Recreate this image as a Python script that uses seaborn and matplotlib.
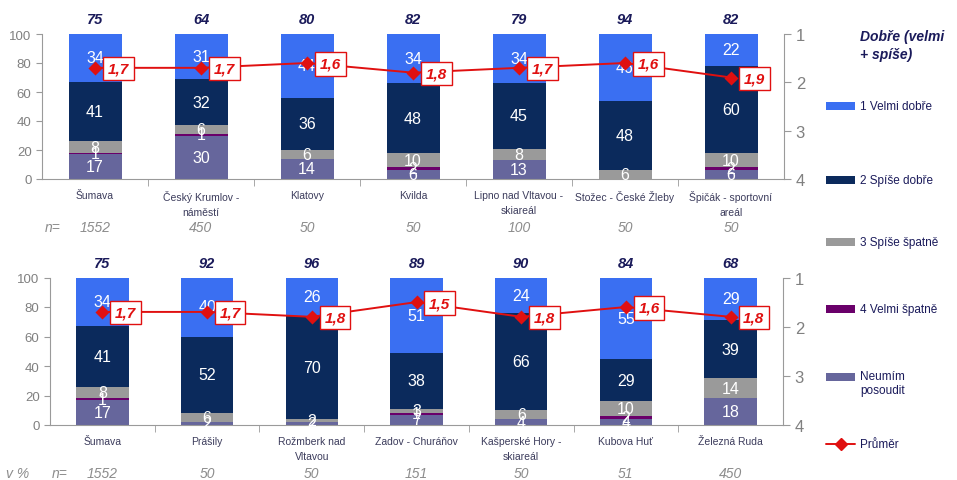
import numpy as np
import pandas as pd
import seaborn as sns
import matplotlib.pyplot as plt
import matplotlib.transforms as mtransforms
from matplotlib.patches import Rectangle
from matplotlib.lines import Line2D

sns.set_style("white")
plt.rcParams["font.family"] = ["Liberation Sans", "DejaVu Sans"]

# ---- data (v %) ----
top_locs = ["Šumava", "Český Krumlov -\nnáměstí", "Klatovy", "Kvilda",
            "Lipno nad Vltavou -\nskiareál", "Stožec - České Žleby",
            "Špičák - sportovní\nareál"]
top_velmi_dobre = [34, 31, 44, 34, 34, 46, 22]
top_spise_dobre = [41, 32, 36, 48, 45, 48, 60]
top_spise_spatne = [8, 6, 6, 10, 8, 6, 10]
top_velmi_spatne = [1, 1, 0, 2, 0, 0, 2]
top_neumim = [17, 30, 14, 6, 13, 0, 6]
top_dobre = [75, 64, 80, 82, 79, 94, 82]
top_prumer = [1.7, 1.7, 1.6, 1.8, 1.7, 1.6, 1.9]
top_n = [1552, 450, 50, 50, 100, 50, 50]

bot_locs = ["Šumava", "Prášily", "Rožmberk nad\nVltavou", "Zadov - Churáňov",
            "Kašperské Hory -\nskiareál", "Kubova Huť", "Železná Ruda"]
bot_velmi_dobre = [34, 40, 26, 51, 24, 55, 29]
bot_spise_dobre = [41, 52, 70, 38, 66, 29, 39]
bot_spise_spatne = [8, 6, 2, 3, 6, 10, 14]
bot_velmi_spatne = [1, 0, 0, 1, 0, 2, 0]
bot_neumim = [17, 2, 2, 7, 4, 4, 18]
bot_dobre = [75, 92, 96, 89, 90, 84, 68]
bot_prumer = [1.7, 1.7, 1.8, 1.5, 1.8, 1.6, 1.8]
bot_n = [1552, 50, 50, 151, 50, 51, 450]

series_names = ["Neumím\nposoudit", "4 Velmi špatně", "3 Spíše špatně",
                "2 Spíše dobře", "1 Velmi dobře"]
colors = ["#66669c", "#6a006a", "#9a9a9a", "#0b2a5c", "#3a6ff2"]
red = "#e01010"
axis_gray = "#9a9a9a"
navy_text = "#1a1a5a"

fig = plt.figure(figsize=(9.57, 4.81), dpi=100)
ax_top = fig.add_axes([42 / 957, 1 - 180 / 481, 742 / 957, 145 / 481])
ax_bot = fig.add_axes([50 / 957, 1 - 426 / 481, 733 / 957, 147.5 / 481])


def panel(ax, locs, layers, dobre, prumer, nvals, n_x):
    layers = np.array(layers, dtype=float)
    cum = np.cumsum(layers, axis=0)
    # stacked bars: draw cumulative totals from the top down
    for i in range(len(layers) - 1, -1, -1):
        sns.barplot(x=locs, y=cum[i], color=colors[i], saturation=1,
                    width=0.5, errorbar=None, linewidth=0, ax=ax)
    # segment labels
    for i in range(len(layers)):
        for j in range(len(locs)):
            v = layers[i, j]
            if v > 0:
                ax.text(j, cum[i, j] - v / 2, f"{int(v)}", ha="center",
                        va="center", color="white", fontsize=11.5)
    # totals above bars
    for j, d in enumerate(dobre):
        ax.text(j, 110, f"{d}", ha="center", va="center", color=navy_text,
                fontsize=10.5, fontweight="bold", fontstyle="italic",
                clip_on=False)

    ax.set_ylim(0, 100)
    ax.set_xlim(-0.5, len(locs) - 0.5)
    ax.set_yticks([0, 20, 40, 60, 80, 100])
    ax.set_ylabel("")
    ax.set_xlabel("")
    for s in ["top", "right"]:
        ax.spines[s].set_visible(False)
    for s in ["left", "bottom"]:
        ax.spines[s].set_color(axis_gray)

    # mean line on reversed secondary axis
    ax2 = ax.twinx()
    sns.pointplot(x=locs, y=prumer, color=red, markers="D", markersize=6,
                  linewidth=1.4, errorbar=None, ax=ax2)
    ax2.set_ylim(4, 1)
    ax2.set_yticks([1, 2, 3, 4])
    ax2.set_ylabel("")
    ax2.set_xlabel("")
    for s in ["top", "left", "bottom"]:
        ax2.spines[s].set_visible(False)
    ax2.spines["right"].set_color(axis_gray)
    ax2.tick_params(axis="y", colors=axis_gray, labelcolor="#808080",
                    labelsize=12, length=5, direction="out")
    for j, m in enumerate(prumer):
        ax2.text(j + 0.12, m + 0.02, f"{m:.1f}".replace(".", ","),
                 ha="left", va="center", color=red, fontsize=11,
                 fontweight="bold", fontstyle="italic",
                 bbox=dict(boxstyle="square,pad=0.3", fc="white", ec=red, lw=1))

    # x ticks: labels at centres, marks at boundaries
    ax.set_xticks(range(len(locs)))
    ax.set_xticklabels(locs, fontsize=7.5, color="#3c3c5c", linespacing=1.6)
    ax.set_xticks(np.arange(0.5, len(locs) - 0.5, 1), minor=True)
    ax.set_xlim(-0.5, len(locs) - 0.5)
    ax.tick_params(axis="x", which="major", length=0, pad=8)
    ax.tick_params(axis="x", which="minor", length=5, color=axis_gray,
                   direction="out", bottom=True)
    ax.tick_params(axis="y", colors=axis_gray, labelcolor="#808080",
                   labelsize=9.5, length=4, direction="out", left=True)

    # n= row
    trans = mtransforms.blended_transform_factory(ax.transData, fig.transFigure)
    bb = ax.get_position()
    ny = bb.y0 - 48 / 481
    for j, nv in enumerate(nvals):
        ax.text(j, ny, f"{nv}", transform=trans, ha="center", va="center",
                color="#8c8c8c", fontsize=10, fontstyle="italic")
    fig.text(n_x / 957, ny, "n=", ha="center", va="center", color="#8c8c8c",
             fontsize=10, fontstyle="italic")
    return ny


panel(ax_top, top_locs,
      [top_neumim, top_velmi_spatne, top_spise_spatne, top_spise_dobre,
       top_velmi_dobre], top_dobre, top_prumer, top_n, 53)
ny = panel(ax_bot, bot_locs,
           [bot_neumim, bot_velmi_spatne, bot_spise_spatne, bot_spise_dobre,
            bot_velmi_dobre], bot_dobre, bot_prumer, bot_n, 60)
fig.text(18 / 957, ny, "v %", ha="center", va="center", color="#8c8c8c",
         fontsize=10, fontstyle="italic")

# ---- legend on the right ----
fig.text(860 / 957, 1 - 30 / 481, "Dobře (velmi\n+ spíše)", ha="left", va="top",
         color=navy_text, fontsize=10, fontweight="bold", fontstyle="italic",
         linespacing=1.35)
leg_y = [107, 181, 243, 310, 378]
leg_order = [4, 3, 2, 1, 0]
for y, i in zip(leg_y, leg_order):
    fig.patches.append(Rectangle((826 / 957, 1 - (y + 4) / 481), 29 / 957,
                                 8 / 481, transform=fig.transFigure,
                                 facecolor=colors[i], edgecolor="none"))
    fig.text(860 / 957, 1 - y / 481, series_names[i], ha="left",
             va="top" if "\n" in series_names[i] else "center",
             color=navy_text, fontsize=8.5, linespacing=1.25)
fig.texts[-1].set_position((860 / 957, 1 - 371 / 481))
fig.lines.append(Line2D([826 / 957, 855 / 957], [1 - 445 / 481, 1 - 445 / 481],
                        transform=fig.transFigure, color=red, lw=1.4,
                        marker="D", markersize=6, markevery=[0]))
fig.lines[-1].set_data([826 / 957, 840.5 / 957, 855 / 957],
                       [1 - 445 / 481] * 3)
fig.lines[-1].set_markevery([1])
fig.text(860 / 957, 1 - 445 / 481, "Průměr", ha="left", va="center",
         color=navy_text, fontsize=8.5)

fig.savefig("out.png", dpi=100, facecolor="white")
